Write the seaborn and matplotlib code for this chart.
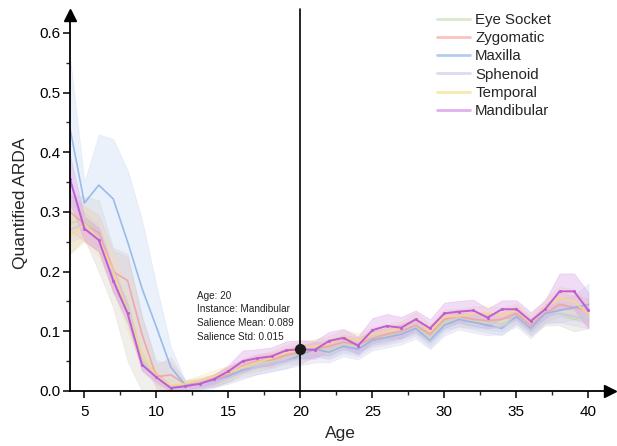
import numpy as np
import pandas as pd
import matplotlib
matplotlib.use("Agg")
import matplotlib.pyplot as plt
import seaborn as sns
from matplotlib.lines import Line2D
from matplotlib.ticker import MultipleLocator

# data (ages 4..40)
ages = list(range(4, 41))
parts = ["Eye Socket", "Zygomatic", "Maxilla", "Sphenoid", "Temporal", "Mandibular"]

eye_mean = [0.28, 0.29, 0.26, 0.19, 0.14, 0.055, 0.02, 0.008, 0.01, 0.012, 0.018, 0.028, 0.04,
            0.045, 0.05, 0.058, 0.06, 0.07, 0.068, 0.078, 0.075, 0.09, 0.092, 0.10, 0.108, 0.09,
            0.115, 0.12, 0.118, 0.115, 0.112, 0.125, 0.105, 0.125, 0.13, 0.12, 0.125]
eye_std = [0.05, 0.035, 0.06, 0.05, 0.09, 0.07, 0.03, 0.04, 0.008, 0.01, 0.01, 0.012, 0.012,
           0.012, 0.012, 0.012, 0.015, 0.012, 0.012, 0.012, 0.012, 0.012, 0.012, 0.012, 0.012, 0.012,
           0.012, 0.012, 0.012, 0.012, 0.012, 0.012, 0.012, 0.015, 0.02, 0.02, 0.02]

zyg_mean = [0.30, 0.28, 0.265, 0.20, 0.185, 0.095, 0.024, 0.027, 0.012, 0.012, 0.018, 0.028, 0.042,
            0.05, 0.052, 0.06, 0.065, 0.07, 0.075, 0.082, 0.078, 0.088, 0.095, 0.10, 0.11, 0.095,
            0.12, 0.125, 0.12, 0.118, 0.12, 0.13, 0.11, 0.13, 0.145, 0.14, 0.135]
zyg_std = [0.03, 0.03, 0.03, 0.035, 0.04, 0.03, 0.02, 0.03, 0.005, 0.008, 0.01, 0.012, 0.012,
           0.012, 0.012, 0.012, 0.012, 0.012, 0.012, 0.012, 0.012, 0.012, 0.012, 0.012, 0.012, 0.012,
           0.012, 0.012, 0.012, 0.012, 0.012, 0.012, 0.012, 0.015, 0.02, 0.02, 0.02]

max_mean = [0.44, 0.315, 0.345, 0.322, 0.25, 0.172, 0.107, 0.04, 0.01, 0.01, 0.015, 0.025, 0.035,
            0.04, 0.045, 0.05, 0.06, 0.07, 0.065, 0.075, 0.07, 0.085, 0.09, 0.095, 0.105, 0.085,
            0.11, 0.12, 0.115, 0.11, 0.105, 0.125, 0.105, 0.13, 0.135, 0.14, 0.145]
max_std = [0.12, 0.035, 0.085, 0.10, 0.12, 0.115, 0.07, 0.034, 0.008, 0.008, 0.01, 0.01, 0.012,
           0.012, 0.012, 0.012, 0.012, 0.012, 0.012, 0.012, 0.012, 0.012, 0.012, 0.012, 0.012, 0.012,
           0.012, 0.012, 0.012, 0.012, 0.012, 0.012, 0.012, 0.015, 0.02, 0.02, 0.035]

sph_mean = [0.27, 0.28, 0.26, 0.19, 0.13, 0.05, 0.02, 0.006, 0.008, 0.01, 0.015, 0.022, 0.032,
            0.04, 0.045, 0.05, 0.055, 0.06, 0.06, 0.07, 0.065, 0.08, 0.085, 0.09, 0.10, 0.082,
            0.105, 0.115, 0.11, 0.105, 0.108, 0.12, 0.10, 0.125, 0.13, 0.125, 0.12]
sph_std = [0.02, 0.02, 0.02, 0.02, 0.02, 0.015, 0.01, 0.005, 0.005, 0.006, 0.008, 0.01, 0.012,
           0.012, 0.012, 0.012, 0.012, 0.012, 0.012, 0.012, 0.012, 0.012, 0.012, 0.012, 0.012, 0.012,
           0.012, 0.012, 0.012, 0.012, 0.012, 0.012, 0.012, 0.012, 0.015, 0.015, 0.015]

tem_mean = [0.26, 0.28, 0.255, 0.20, 0.13, 0.06, 0.025, 0.01, 0.012, 0.018, 0.025, 0.03, 0.04,
            0.048, 0.055, 0.065, 0.07, 0.075, 0.08, 0.09, 0.085, 0.095, 0.10, 0.105, 0.12, 0.10,
            0.125, 0.125, 0.13, 0.13, 0.128, 0.135, 0.115, 0.14, 0.155, 0.15, 0.13]
tem_std = [0.03, 0.03, 0.03, 0.03, 0.03, 0.02, 0.01, 0.006, 0.006, 0.008, 0.01, 0.012, 0.012,
           0.012, 0.012, 0.012, 0.012, 0.012, 0.012, 0.012, 0.012, 0.012, 0.012, 0.012, 0.012, 0.012,
           0.012, 0.012, 0.012, 0.012, 0.012, 0.012, 0.012, 0.015, 0.02, 0.02, 0.02]

man_mean = [0.355, 0.272, 0.253, 0.185, 0.13, 0.044, 0.023, 0.005, 0.008, 0.012, 0.02, 0.033, 0.05,
            0.055, 0.058, 0.068, 0.070, 0.069, 0.084, 0.089, 0.076, 0.102, 0.109, 0.106, 0.12, 0.105,
            0.13, 0.133, 0.135, 0.123, 0.137, 0.137, 0.117, 0.137, 0.167, 0.167, 0.135]
man_std = [0.04, 0.02, 0.02, 0.02, 0.015, 0.01, 0.008, 0.005, 0.005, 0.006, 0.008, 0.01, 0.018,
           0.015, 0.015, 0.015, 0.015, 0.015, 0.015, 0.015, 0.015, 0.02, 0.02, 0.018, 0.015, 0.015,
           0.018, 0.018, 0.018, 0.015, 0.015, 0.015, 0.015, 0.015, 0.03, 0.03, 0.03]

line_colors = ["#c9dbae", "#f2a3a3", "#8fb5ea", "#cbc6ea", "#f3d98a", "#c25bd4"]
band_colors = ["#cfcbbd", "#f0b4b4", "#c6d8f2", "#cfcae8", "#f5e2a8", "#d99be8"]
band_alpha = [0.3, 0.3, 0.35, 0.3, 0.3, 0.35]
legend_colors = ["#dbe8cc", "#fbc2c2", "#b4cdf2", "#dedaf0", "#f9e9ae", "#e0b0ee"]

means = [eye_mean, zyg_mean, max_mean, sph_mean, tem_mean, man_mean]
stds = [eye_std, zyg_std, max_std, sph_std, tem_std, man_std]

df = pd.concat([pd.DataFrame({"age": ages, "mean": m, "std": s, "part": p})
                for p, m, s in zip(parts, means, stds)], ignore_index=True)

sns.set_style("ticks")
plt.rcParams["font.family"] = ["Liberation Sans", "DejaVu Sans"]

fig = plt.figure(figsize=(6.17, 4.46), dpi=100)
ax = fig.add_axes([70 / 617, 55 / 446, 540 / 617, 376 / 446])

for p, bc, a in zip(parts, band_colors, band_alpha):
    g = df[df["part"] == p]
    lo = np.clip(g["mean"] - g["std"], 0, None)
    hi = g["mean"] + g["std"]
    ax.fill_between(g["age"], lo, hi, color=bc, alpha=a, linewidth=0.6, edgecolor=bc)

others = df[df["part"] != "Mandibular"]
sns.lineplot(data=others, x="age", y="mean", hue="part", palette=line_colors[:5],
             hue_order=parts[:5], linewidth=1.2, alpha=0.9, legend=False, ax=ax)
sns.lineplot(data=df[df["part"] == "Mandibular"], x="age", y="mean", color=line_colors[5],
             linewidth=1.4, marker="o", markersize=2.2, markeredgewidth=0, legend=False, ax=ax)

# highlighted instance
ax.axvline(20, ymin=0, ymax=1.017, color="black", linewidth=1.2, clip_on=False)
ax.plot([20], [0.070], "o", color="#1a1a1a", markersize=7, zorder=6)
ax.text(12.85, 0.168, "Age: 20\nInstance: Mandibular\nSalience Mean: 0.089\nSalience Std: 0.015",
        fontsize=7.2, va="top", ha="left", linespacing=1.45, color="#222222")

ax.set_xlim(4, 41.5)
ax.set_ylim(0, 0.63)
ax.xaxis.set_major_locator(MultipleLocator(5))
ax.xaxis.set_minor_locator(MultipleLocator(2.5))
ax.yaxis.set_major_locator(MultipleLocator(0.1))
ax.yaxis.set_minor_locator(MultipleLocator(0.05))
ax.set_xticks([5, 10, 15, 20, 25, 30, 35, 40])
ax.tick_params(which="major", length=5, width=1.1, labelsize=11, pad=2, colors="black")
ax.tick_params(which="minor", length=3, width=1.0)
ax.tick_params(axis="x", pad=5)

for side in ["top", "right"]:
    ax.spines[side].set_visible(False)
for side in ["left", "bottom"]:
    ax.spines[side].set_linewidth(1.3)
    ax.spines[side].set_color("black")

# axis arrows
ax.plot(1, 0, ">", color="black", markersize=8, transform=ax.transAxes, clip_on=False)
ax.plot(0, 1, "^", color="black", markersize=8, transform=ax.transAxes, clip_on=False)

ax.set_xlabel("Age", fontsize=12.5, labelpad=5)
ax.set_ylabel("Quantified ARDA", fontsize=12.5, labelpad=8)

handles = [Line2D([0], [0], color=c, linewidth=2) for c in legend_colors]
fig.legend(handles, parts, loc="upper left", bbox_to_anchor=(437 / 617, 1 - 13 / 446),
           frameon=False, fontsize=10.8, labelspacing=0.28, handlelength=2.2,
           handletextpad=0.35, borderpad=0, borderaxespad=0)

fig.savefig("out.png", dpi=100)
